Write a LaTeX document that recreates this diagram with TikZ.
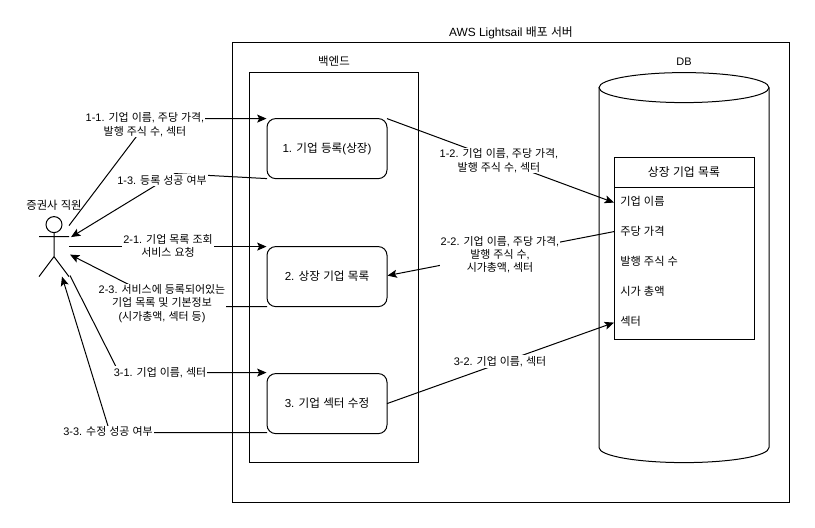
\documentclass[tikz,border=0pt]{standalone}
\usepackage{fontspec}
\setmainfont{Liberation Sans}
\newfontfamily\cjkfont{Noto Sans CJK KR}
\newfontfamily\latinfont{Liberation Sans}
\usetikzlibrary{arrows.meta}
\newXeTeXintercharclass\hangulclass
\newcount\hangulcp
\hangulcp="AC00
\loop
  \XeTeXcharclass\hangulcp=\hangulclass
  \advance\hangulcp by 1
\ifnum\hangulcp<"D7A4 \repeat
\XeTeXinterchartokenstate=1
\XeTeXinterchartoks 0 \hangulclass={\cjkfont}
\XeTeXinterchartoks 4095 \hangulclass={\cjkfont}
\XeTeXinterchartoks \hangulclass 0={\latinfont}
\XeTeXinterchartoks \hangulclass 4095={\latinfont}
\tikzset{
  shape line/.style={draw=black,line width=0.75pt},
  conn/.style={draw=black,line width=0.75pt},
  arr/.style={conn,-{Stealth[length=7pt,width=6pt,inset=1.5pt]}},
  lbl/.style={font=\fontsize{8.2pt}{9.9pt}\selectfont,align=center,fill=white,inner sep=0.8pt},
  plain/.style={font=\fontsize{8.2pt}{9.9pt}\selectfont,align=center,inner sep=0pt},
  titletext/.style={plain,font=\fontsize{8.9pt}{10pt}\selectfont},
  procbox/.style={shape line,rounded corners=6.5pt,fill=white,minimum width=90pt,minimum height=45pt,inner sep=0pt,font=\fontsize{8.7pt}{10pt}\selectfont},
  rowtext/.style={font=\fontsize{8.4pt}{10pt}\selectfont,anchor=west,inner sep=0pt},
}
\begin{document}
\begin{tikzpicture}[x=0.75pt,y=-0.75pt]
\useasboundingbox (0,-0.6) rectangle (815,527.4);
\fill[white] (0,-0.6) rectangle (815,527.4);
% containers
\node[shape line,minimum width=417.75pt,minimum height=345pt,inner sep=0pt] (server) at (510.5,272) {};
\node[shape line,minimum width=126.75pt,minimum height=292.5pt,inner sep=0pt] (backend) at (333.5,267) {};
\node[titletext] (servertitle) at (511,32) {AWS Lightsail 배포 서버};
\node[plain,font=\fontsize{8.6pt}{10pt}\selectfont] (backendtitle) at (334,61) {백엔드};
\node[plain] (dbtitle) at (684,61) {DB};
% database cylinder
\draw[shape line] (599,87) -- (599,447) arc[start angle=180,end angle=0,x radius=85,y radius=15] -- (769,87);
\draw[shape line] (684,87) ellipse [x radius=85,y radius=15];
% table
\node[shape line,fill=white,minimum width=105pt,minimum height=136.5pt,inner sep=0pt] (table) at (684,247.5) {};
\node[titletext] (tabletitle) at (684,171) {상장 기업 목록};
\draw[shape line] (614,187) -- (754,187);
\node[rowtext] (r1) at (620,201) {기업 이름};
\node[rowtext] (r2) at (620,231) {주당 가격};
\node[rowtext] (r3) at (620,261) {발행 주식 수};
\node[rowtext] (r4) at (620,291) {시가 총액};
\node[rowtext] (r5) at (620,321) {섹터};
% process boxes
\node[procbox] (b1) at (327,148) {1. 기업 등록(상장)};
\node[procbox] (b2) at (327,276) {2. 상장 기업 목록};
\node[procbox] (b3) at (327,403) {3. 기업 섹터 수정};
% actor
\node[shape line,circle,minimum size=12pt,inner sep=0pt] (head) at (54,224) {};
\coordinate (neck) at (54,232);
\coordinate (hip) at (54,256);
\coordinate (armL) at (39,236);
\coordinate (armR) at (69,236);
\coordinate (legL) at (39,276);
\coordinate (legR) at (69,276);
\draw[shape line] (head.south) -- (hip) (armL) -- (armR) (legL) -- (hip) -- (legR);
\node[plain,font=\fontsize{8.5pt}{10pt}\selectfont] (actorlabel) at (54,205) {증권사 직원};
% connector anchors
\coordinate (a11) at (69,225);
\coordinate (k11) at (150,118);
\coordinate (b1w) at (266.5,118);
\coordinate (k13) at (175,173);
\coordinate (b1s) at (267,178);
\coordinate (a13) at (71,236.5);
\coordinate (a21) at (69,246);
\coordinate (b2w) at (266.5,246);
\coordinate (b2s) at (267,306);
\coordinate (k23) at (172,306);
\coordinate (a23) at (70,254);
\coordinate (a31) at (70,275);
\coordinate (k31) at (119,372);
\coordinate (b3w) at (266.5,372);
\coordinate (b3s) at (267,432);
\coordinate (k33) at (110,432);
\coordinate (a33) at (62,276);
\coordinate (b1e) at (387,118);
\coordinate (t1) at (614,202);
\coordinate (t2) at (614,231);
\coordinate (b2e) at (387.5,275);
\coordinate (b3e) at (387,403);
\coordinate (t5) at (614,322);
% connectors
\draw[arr] (a11) -- (k11) -- (b1w);
\draw[arr] (b1s) -- (k13) -- (a13);
\draw[arr] (a21) -- (b2w);
\draw[arr] (b2s) -- (k23) -- (a23);
\draw[arr] (a31) -- (k31) -- (b3w);
\draw[arr] (b3s) -- (k33) -- (a33);
\draw[arr] (b1e) -- (t1);
\draw[arr] (t2) -- (b2e);
\draw[arr] (b3e) -- (t5);
% connector labels
\node[lbl] (l11) at (145,124) {1-1. 기업 이름, 주당 가격,\\발행 주식 수, 섹터};
\node[lbl] (l13) at (162,179.5) {1-3. 등록 성공 여부};
\node[lbl] (l21) at (168,245) {2-1. 기업 목록 조회\\서비스 요청};
\node[lbl] (l23) at (162,303) {2-3. 서비스에 등록되어있는\\기업 목록 및 기본정보\\(시가총액, 섹터 등)};
\node[lbl] (l31) at (160,372) {3-1. 기업 이름, 섹터};
\node[lbl] (l33) at (108,431) {3-3. 수정 성공 여부};
\node[lbl] (l12) at (499,160) {1-2. 기업 이름, 주당 가격,\\발행 주식 수, 섹터};
\node[lbl] (l22) at (500,254) {2-2. 기업 이름, 주당 가격,\\발행 주식 수,\\시가총액, 섹터};
\node[lbl] (l32) at (500,361) {3-2. 기업 이름, 섹터};
\end{tikzpicture}
\end{document}
